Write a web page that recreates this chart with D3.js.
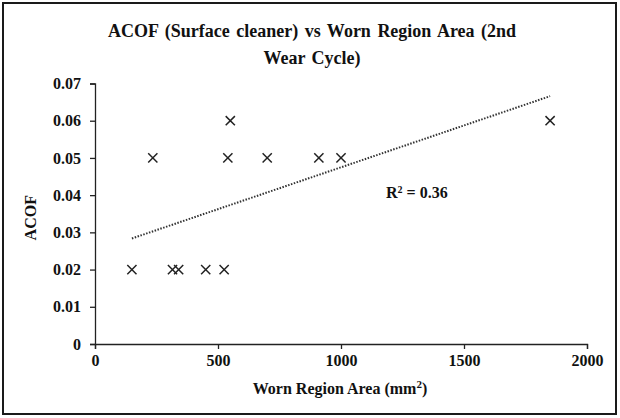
<!DOCTYPE html>
<html>
<head>
<meta charset="utf-8">
<script src="https://cdn.jsdelivr.net/npm/d3@7"></script>
<style>
  body { margin: 0; background: #fff; }
  text { font-family: "Liberation Serif", "Times New Roman", serif; font-weight: bold; fill: #111; }
</style>
</head>
<body>
<div id="chart"></div>
<script>
// data
var areaVals = [150, 235, 315, 340, 450, 525, 540, 550, 700, 910, 1000, 1850];
var acofVals = [0.02, 0.05, 0.02, 0.02, 0.02, 0.02, 0.05, 0.06, 0.05, 0.05, 0.05, 0.06];
var xTicks = [0, 500, 1000, 1500, 2000];
var yTicks = [0, 0.01, 0.02, 0.03, 0.04, 0.05, 0.06, 0.07];
var titleLines = ["ACOF (Surface cleaner) vs Worn Region Area (2nd", "Wear Cycle)"];

var W = 620, H = 418;
var margin = {top: 83.5, right: 33, bottom: 74, left: 95};
var width = W - margin.left - margin.right,
    height = H - margin.top - margin.bottom;

var svg = d3.select("#chart")
  .append("svg")
    .attr("width", W)
    .attr("height", H);

// outer frame
svg.append("rect")
  .attr("x", 3).attr("y", 3)
  .attr("width", 613).attr("height", 411)
  .attr("fill", "none")
  .attr("stroke", "#1a1a1a")
  .attr("stroke-width", 2);

var g = svg.append("g")
  .attr("transform", "translate(" + margin.left + "," + margin.top + ")");

var x = d3.scaleLinear().domain([0, 2000]).range([0, width]);
var y = d3.scaleLinear().domain([0, 0.07]).range([height, 0]);

// X axis
var xAxis = g.append("g")
  .attr("transform", "translate(0," + height + ")")
  .call(d3.axisBottom(x).tickValues(xTicks).tickSize(5).tickPadding(6).tickFormat(d3.format("d")));
xAxis.selectAll("text").style("font-size", "16px").attr("fill", "#111");

// Y axis
var yAxis = g.append("g")
  .call(d3.axisLeft(y).tickValues(yTicks).tickSize(5).tickPadding(9)
    .tickFormat(function(d) { return d === 0 ? "0" : d3.format(".2f")(d); }));
yAxis.selectAll("text").style("font-size", "16px").attr("fill", "#111");

g.selectAll(".domain, .tick line").attr("stroke", "#222").attr("stroke-width", 1.3);

// title (centred on the whole chart)
svg.append("text")
  .attr("text-anchor", "middle")
  .style("font-size", "18px")
  .style("word-spacing", "2px")
  .selectAll("tspan")
  .data(titleLines)
  .enter()
  .append("tspan")
    .attr("x", 312)
    .attr("y", function(d, i) { return 37 + i * 27; })
    .text(function(d) { return d; });

// X axis label
var xl = svg.append("text")
  .attr("text-anchor", "middle")
  .attr("x", 340)
  .attr("y", 394)
  .style("font-size", "16px")
  .text("Worn Region Area (mm");
xl.append("tspan").attr("dy", -6).style("font-size", "11px").text("2");
xl.append("tspan").attr("dy", 6).text(")");

// Y axis label
svg.append("text")
  .attr("text-anchor", "middle")
  .attr("transform", "translate(36," + (margin.top + height / 2 + 4) + ") rotate(-90)")
  .style("font-size", "16px")
  .text("ACOF");

// linear trendline (least squares)
var mx = d3.mean(areaVals), my = d3.mean(acofVals);
var sxy = d3.sum(areaVals, function(v, i) { return (v - mx) * (acofVals[i] - my); });
var sxx = d3.sum(areaVals, function(v) { return (v - mx) * (v - mx); });
var syy = d3.sum(acofVals, function(v) { return (v - my) * (v - my); });
var slope = sxy / sxx, icpt = my - slope * mx;
var r2 = sxy * sxy / (sxx * syy);
var xEnds = d3.extent(areaVals);

g.append("line")
  .attr("x1", x(xEnds[0])).attr("y1", y(icpt + slope * xEnds[0]))
  .attr("x2", x(xEnds[1])).attr("y2", y(icpt + slope * xEnds[1]))
  .attr("stroke", "#333")
  .attr("stroke-width", 2)
  .attr("stroke-dasharray", "1.5,1.5");

var r2t = svg.append("text")
  .attr("x", 386)
  .attr("y", 198)
  .style("font-size", "16px")
  .text("R");
r2t.append("tspan").attr("dy", -5).style("font-size", "10px").text("2");
r2t.append("tspan").attr("dy", 5).text(" = " + d3.format(".2f")(r2));

// X markers
var s = 4.6;
var pts = g.selectAll("g.pt")
  .data(areaVals)
  .enter()
  .append("g")
    .attr("class", "pt")
    .attr("transform", function(d, i) { return "translate(" + x(d) + "," + y(acofVals[i]) + ")"; });
pts.append("path")
  .attr("d", "M" + (-s) + "," + (-s) + "L" + s + "," + s + "M" + (-s) + "," + s + "L" + s + "," + (-s))
  .attr("stroke", "#222")
  .attr("stroke-width", 1.5)
  .attr("fill", "none");
</script>
</body>
</html>
